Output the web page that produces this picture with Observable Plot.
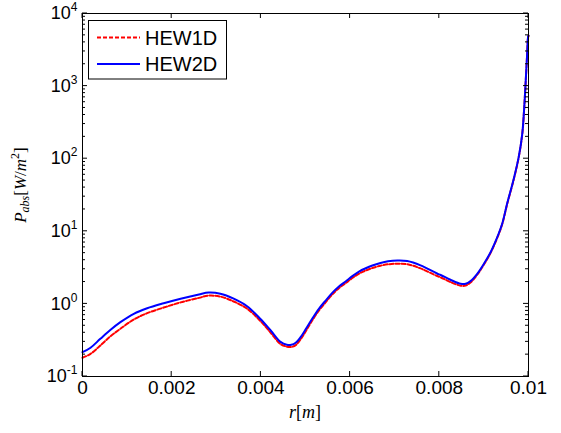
<!DOCTYPE html>
<html><head><meta charset="utf-8">
<script src="https://cdn.jsdelivr.net/npm/d3@7"></script>
<script src="https://cdn.jsdelivr.net/npm/@observablehq/plot@0.6"></script>
<style>body{margin:0;background:#fff}</style>
</head><body><div id="chart"></div>
<script>
// ---- data ----
const r = [0, 0.00018, 0.0004, 0.00063, 0.00085, 0.00115, 0.00145, 0.00182, 0.0022, 0.00261,
  0.00283, 0.00309, 0.00339, 0.00369, 0.00399, 0.00422, 0.00444, 0.00458, 0.00468, 0.00478,
  0.00489, 0.005, 0.00515, 0.0053, 0.00545, 0.0056, 0.00575, 0.0059, 0.00605, 0.0062,
  0.00635, 0.0065, 0.00668, 0.00685, 0.00706, 0.00728, 0.00758, 0.00795, 0.00803, 0.00825,
  0.00848, 0.00859, 0.0087, 0.00885, 0.009, 0.00915, 0.0093, 0.00941, 0.00952, 0.00967,
  0.00978, 0.00986, 0.0099, 0.00993, 0.00997, 0.00999, 0.01];
const hew1d = [0.181, 0.205, 0.267, 0.36, 0.454, 0.61, 0.745, 0.89, 1.05, 1.21,
  1.30, 1.26, 1.08, 0.86, 0.58, 0.40, 0.28, 0.258, 0.255, 0.27,
  0.325, 0.415, 0.59, 0.81, 1.05, 1.35, 1.65, 1.93, 2.27, 2.61,
  2.88, 3.12, 3.36, 3.51, 3.57, 3.52, 3.08, 2.42, 2.32, 2.00,
  1.78, 1.79, 1.97, 2.52, 3.48, 5.05, 8.15, 12.5, 23.5, 52,
  104, 217, 455, 955, 2760, 4680, 4900];
const hew2d = [0.216, 0.249, 0.33, 0.44, 0.56, 0.73, 0.87, 1.02, 1.18, 1.35,
  1.43, 1.38, 1.18, 0.93, 0.62, 0.43, 0.30, 0.274, 0.273, 0.291,
  0.348, 0.443, 0.624, 0.856, 1.11, 1.42, 1.74, 2.04, 2.41, 2.79,
  3.10, 3.38, 3.66, 3.86, 3.96, 3.90, 3.40, 2.62, 2.50, 2.15,
  1.89, 1.89, 2.06, 2.60, 3.57, 5.15, 8.3, 12.7, 23.9, 52.9,
  105, 220, 461, 966, 2790, 4720, 4950];
const seriesNames = ["HEW1D", "HEW2D"];
const seriesColors = ["#ff0000", "#0000ff"];
const xTicks = [0, 0.002, 0.004, 0.006, 0.008, 0.01];
const xTickLabels = ["0", "0.002", "0.004", "0.006", "0.008", "0.01"];
const yTicks = [0.1, 1, 10, 100, 1000, 10000];
const yTickExponents = ["-1", "0", "1", "2", "3", "4"];

// ---- layout ----
const W = 561, H = 433, mL = 82, mR = 33, mT = 13, mB = 57;
const pw = W - mL - mR, ph = H - mT - mB;
const minorY = d3.scaleLog().domain([0.1, 1e4]).ticks()
  .filter(v => !yTicks.some(t => Math.abs(t - v) / t < 1e-9));

const rows1 = r.map((x, i) => ({r: x, v: hew1d[i]}));
const rows2 = r.map((x, i) => ({r: x, v: hew2d[i]}));

const chart = Plot.plot({
  width: W, height: H,
  marginLeft: mL, marginRight: mR, marginTop: mT, marginBottom: mB,
  style: {fontFamily: "'Liberation Sans', Arial, sans-serif", background: "#fff", color: "#000", overflow: "visible"},
  x: {domain: [0, 0.01]},
  y: {type: "log", domain: [0.1, 1e4]},
  marks: [
    Plot.lineY(rows1, {x: "r", y: "v", stroke: seriesColors[0], strokeWidth: 2, strokeDasharray: "4,2", curve: "catmull-rom"}),
    Plot.lineY(rows2, {x: "r", y: "v", stroke: seriesColors[1], strokeWidth: 2, curve: "catmull-rom"}),
    Plot.frame({stroke: "#000", strokeWidth: 1}),
    Plot.axisX(xTicks, {tickSize: 0, tickPadding: 4, fontSize: 19, label: null,
      tickFormat: d => xTickLabels[xTicks.indexOf(d)]}),
    Plot.axisY(yTicks, {tickSize: 0, tickPadding: 5, fontSize: 18, label: null,
      tickFormat: d => "10^" + yTickExponents[yTicks.indexOf(d)]})
  ]
});
document.getElementById("chart").appendChild(chart);

const svg = d3.select(chart);
const sx = chart.scale("x").apply, sy = chart.scale("y").apply;
const fTop = mT, fBottom = H - mB, fLeft = mL, fRight = W - mR;

// inward ticks on all four sides (positions from Plot's scales)
const tg = svg.append("g").attr("stroke", "#000").attr("stroke-width", 1);
xTicks.forEach(v => {
  const x = sx(v);
  tg.append("line").attr("x1", x).attr("x2", x).attr("y1", fBottom).attr("y2", fBottom - 5);
  tg.append("line").attr("x1", x).attr("x2", x).attr("y1", fTop).attr("y2", fTop + 5);
});
yTicks.forEach(v => {
  const y = sy(v);
  tg.append("line").attr("x1", fLeft).attr("x2", fLeft + 5).attr("y1", y).attr("y2", y);
  tg.append("line").attr("x1", fRight).attr("x2", fRight - 5).attr("y1", y).attr("y2", y);
});
minorY.forEach(v => {
  const y = sy(v);
  tg.append("line").attr("x1", fLeft).attr("x2", fLeft + 3).attr("y1", y).attr("y2", y);
  tg.append("line").attr("x1", fRight).attr("x2", fRight - 3).attr("y1", y).attr("y2", y);
});

// superscripts on y tick labels
svg.selectAll('g[aria-label="y-axis tick label"] text').each(function () {
  const t = d3.select(this);
  const parts = t.text().split("^");
  t.text(null);
  t.append("tspan").text(parts[0]);
  t.append("tspan").attr("dy", "-8").attr("font-size", 12).text(parts[1]);
});

// axis titles (LaTeX-like)
const serif = "'Liberation Serif', 'Times New Roman', serif";
const xl = svg.append("text").attr("x", mL + pw / 2).attr("y", 418)
  .attr("text-anchor", "middle").attr("font-family", serif).attr("font-size", 18).attr("fill", "#000");
xl.append("tspan").attr("font-style", "italic").text("r");
xl.append("tspan").text("[");
xl.append("tspan").attr("font-style", "italic").text("m");
xl.append("tspan").text("]");

const yl = svg.append("text").attr("transform", "translate(26,185) rotate(-90)")
  .attr("text-anchor", "middle").attr("font-family", serif).attr("font-size", 17).attr("fill", "#000");
yl.append("tspan").attr("font-style", "italic").text("P");
yl.append("tspan").attr("font-style", "italic").attr("font-size", 12).attr("dy", 3).text("abs");
yl.append("tspan").attr("dy", -3).text("[");
yl.append("tspan").attr("font-style", "italic").text("W");
yl.append("tspan").text("/");
yl.append("tspan").attr("font-style", "italic").text("m");
yl.append("tspan").attr("font-size", 12).attr("dy", -7).text("2");
yl.append("tspan").attr("dy", 7).text("]");

// legend
const lg = svg.append("g");
lg.append("rect").attr("x", 88.5).attr("y", 20.5).attr("width", 138).attr("height", 58.5)
  .attr("fill", "#fff").attr("stroke", "#000").attr("stroke-width", 1);
const ly = [37.5, 64];
seriesNames.forEach((name, i) => {
  lg.append("line").attr("x1", 97).attr("x2", 140).attr("y1", ly[i]).attr("y2", ly[i])
    .attr("stroke", seriesColors[i]).attr("stroke-width", 2)
    .attr("stroke-dasharray", i === 0 ? "4,2" : null);
  lg.append("text").attr("x", 145).attr("y", ly[i]).attr("dy", "0.35em")
    .attr("text-anchor", "start")
    .attr("font-family", "'Liberation Sans', Arial, sans-serif").attr("font-size", 20).attr("fill", "#000")
    .text(name);
});
</script>
</body></html>
